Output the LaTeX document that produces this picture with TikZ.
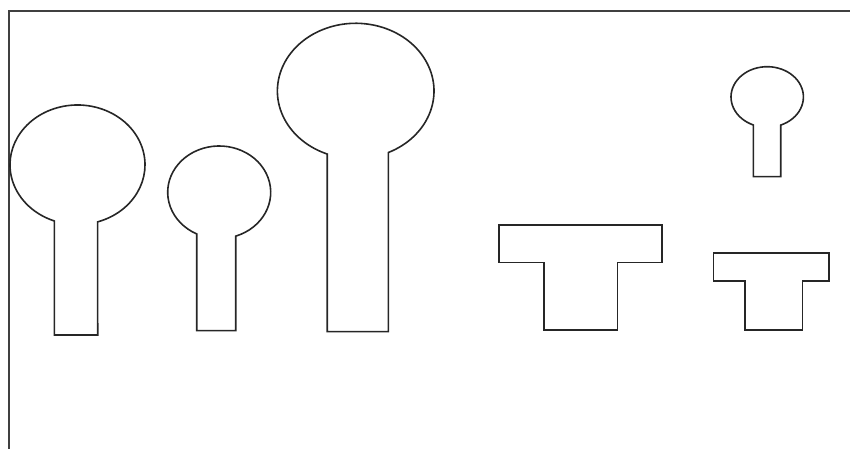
\documentclass[tikz,border=0pt]{standalone}
\begin{document}
\begin{tikzpicture}[x=1pt,y=1pt,
  outline/.style={draw=black!85,line width=1.6pt,line join=miter},
  frameline/.style={draw=black!75,line width=2pt}]
\useasboundingbox (0,0) rectangle (850,449);
% frame
\draw[frameline] (850,438) -- (9,438) -- (9,0);
% keyhole 1
\coordinate (c1) at (77.5,284.2);
\draw[outline] (c1) ++(-72.6:67.5 and 59.8)
  arc[start angle=-72.6,end angle=249.9,x radius=67.5,y radius=59.8]
  |- (97.7,114) -- cycle;
% keyhole 2
\coordinate (c2) at (219.2,256.7);
\draw[outline] (c2) ++(-71.3:51.5 and 46.3)
  arc[start angle=-71.3,end angle=244.1,x radius=51.5,y radius=46.3]
  |- (235.7,118.3) -- cycle;
% keyhole 3
\coordinate (c3) at (355.7,358);
\draw[outline] (c3) ++(-65.4:78.3 and 67.7)
  arc[start angle=-65.4,end angle=248.7,x radius=78.3,y radius=67.7]
  |- (388.3,117.3) -- cycle;
% keyhole 4
\coordinate (c4) at (767.2,352);
\draw[outline] (c4) ++(-68.1:36.2 and 30.3)
  arc[start angle=-68.1,end angle=247.4,x radius=36.2,y radius=30.3]
  |- (780.7,272.3) -- cycle;
% T shape 1
\draw[outline] (499,224) -- (661.7,224) -- (661.7,186.3) -- (617.3,186.3)
  -- (617.3,119) -- (544,119) -- (544,186.3) -- (499,186.3) -- cycle;
% T shape 2
\draw[outline] (713.3,195.7) -- (829,195.7) -- (829,168) -- (802.3,168)
  -- (802.3,119) -- (745,119) -- (745,168) -- (713.3,168) -- cycle;
\end{tikzpicture}
\end{document}
